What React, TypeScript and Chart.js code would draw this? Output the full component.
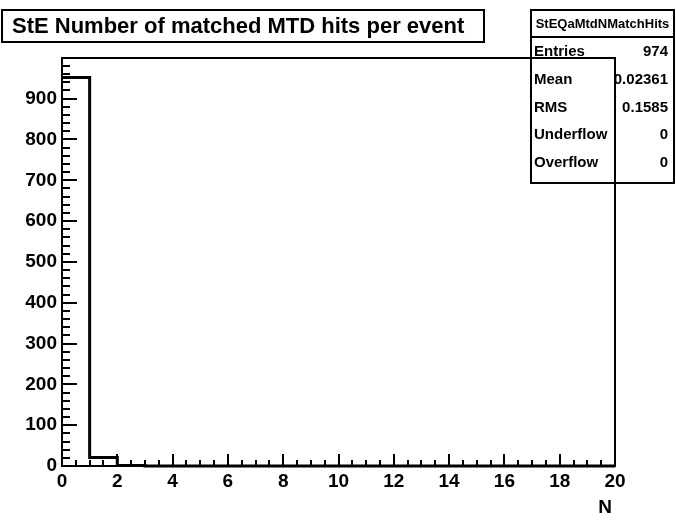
import React, { useEffect, useRef } from 'react';
import { Chart, registerables } from 'chart.js';

Chart.register(...registerables);

// ---- data ----
const binEdges = [0, 1, 2, 3, 4, 5, 6, 7, 8, 9, 10, 11, 12, 13, 14, 15, 16, 17, 18, 19, 20];
const binCounts = [952, 21, 1, 0, 0, 0, 0, 0, 0, 0, 0, 0, 0, 0, 0, 0, 0, 0, 0, 0];
const xTickValues = [0, 2, 4, 6, 8, 10, 12, 14, 16, 18, 20];
const yTickValues = [0, 100, 200, 300, 400, 500, 600, 700, 800, 900];
const xMin = 0;
const xMax = 20;
const yMin = 0;
const yMax = 999.6;
const xMinorStep = 0.5;
const yMinorStep = 20;
const titleText = 'StE Number of matched MTD hits per event';
const xAxisTitle = 'N';
const statsName = 'StEQaMtdNMatchHits';
const statsLabels = ['Entries', 'Mean', 'RMS', 'Underflow', 'Overflow'];
const statsValues = ['974', '0.02361', '0.1585', '0', '0'];

const FONT = '"Liberation Sans", Arial, Helvetica, sans-serif';

const rootPlugin = {
  id: 'rootDecor',
  afterDraw(chart: any) {
    const ctx = chart.ctx as CanvasRenderingContext2D;
    const { left, right, top, bottom } = chart.chartArea;
    const xs = chart.scales.x;
    const ys = chart.scales.y;
    ctx.save();
    ctx.strokeStyle = '#000';
    ctx.fillStyle = '#000';

    // frame
    ctx.lineWidth = 2;
    ctx.strokeRect(left, top, right - left, bottom - top);

    // ticks (inside)
    ctx.beginPath();
    const nx = Math.round((xMax - xMin) / xMinorStep);
    for (let i = 0; i <= nx; i++) {
      const v = xMin + i * xMinorStep;
      const px = Math.round(xs.getPixelForValue(v));
      const len = xTickValues.includes(v) ? 12 : 6;
      ctx.moveTo(px, bottom);
      ctx.lineTo(px, bottom - len);
    }
    const ny = Math.floor((yMax - yMin) / yMinorStep);
    for (let i = 0; i <= ny; i++) {
      const v = yMin + i * yMinorStep;
      const py = Math.round(ys.getPixelForValue(v));
      const len = v % 100 === 0 ? 15 : 8;
      ctx.moveTo(left, py);
      ctx.lineTo(left + len, py);
    }
    ctx.stroke();

    // axis title
    ctx.font = `bold 19px ${FONT}`;
    ctx.textAlign = 'right';
    ctx.textBaseline = 'middle';
    ctx.fillText(xAxisTitle, right - 3, 508);

    // title box
    ctx.lineWidth = 2;
    ctx.strokeRect(2, 10, 482, 32);
    ctx.font = `bold 22px ${FONT}`;
    ctx.textAlign = 'left';
    ctx.fillText(titleText, 12, 27);

    // stats box
    const bx = 531, by = 10, bw = 143, bh = 173;
    ctx.strokeRect(bx, by, bw, bh);
    ctx.beginPath();
    ctx.moveTo(bx, 37);
    ctx.lineTo(bx + bw, 37);
    ctx.stroke();
    ctx.font = `bold 13px ${FONT}`;
    ctx.textAlign = 'center';
    ctx.fillText(statsName, bx + bw / 2, 24);
    ctx.font = `bold 15px ${FONT}`;
    const rowY = [52, 80, 108, 135, 163];
    statsLabels.forEach((lab, i) => {
      ctx.textAlign = 'left';
      ctx.fillText(lab, bx + 3, rowY[i]);
      ctx.textAlign = 'right';
      ctx.fillText(statsValues[i], bx + bw - 6, rowY[i]);
    });
    ctx.restore();
  },
};

export default function App() {
  const ref = useRef<HTMLCanvasElement | null>(null);
  useEffect(() => {
    if (!ref.current) return;
    const points = binEdges.map((e, i) => ({ x: e, y: binCounts[Math.min(i, binCounts.length - 1)] }));
    const tickFont = { family: FONT, weight: 'bold' as const, size: 19 };
    const chart = new Chart(ref.current, {
      type: 'line',
      data: {
        datasets: [
          {
            data: points,
            stepped: 'before',
            borderColor: '#000',
            borderWidth: 3,
            pointRadius: 0,
            fill: false,
            clip: 6,
          } as any,
        ],
      },
      options: {
        responsive: false,
        animation: false,
        layout: { padding: { top: 58, right: 61, left: 0, bottom: 0 } },
        plugins: { legend: { display: false }, title: { display: false }, tooltip: { enabled: false } },
        scales: {
          x: {
            type: 'linear',
            min: xMin,
            max: xMax,
            afterFit: (s: any) => { s.height = 60; },
            afterBuildTicks: (s: any) => { s.ticks = xTickValues.map((v) => ({ value: v })); },
            grid: { display: false, drawTicks: false },
            border: { display: false },
            ticks: { color: '#000', font: tickFont, padding: 4, maxRotation: 0, autoSkip: false },
          },
          y: {
            type: 'linear',
            min: yMin,
            max: yMax,
            afterFit: (s: any) => { s.width = 62; },
            afterBuildTicks: (s: any) => { s.ticks = yTickValues.map((v) => ({ value: v })); },
            grid: { display: false, drawTicks: false },
            border: { display: false },
            ticks: { color: '#000', font: tickFont, padding: 5, autoSkip: false },
          },
        },
      },
      plugins: [rootPlugin],
    });
    return () => chart.destroy();
  }, []);
  return (
    <div style={{ position: 'absolute', left: 0, top: 0, width: 676, height: 526, background: '#fff' }}>
      <canvas ref={ref} width={676} height={526} />
    </div>
  );
}
